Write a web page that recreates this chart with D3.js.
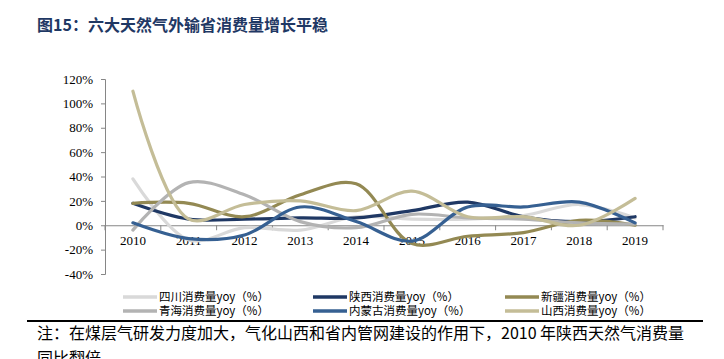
<!DOCTYPE html>
<html>
<head>
<meta charset="utf-8">
<script src="https://d3js.org/d3.v7.min.js"></script>
<style>
  body { margin: 0; background: #fff; }
  svg { display: block; }
</style>
</head>
<body>
<svg width="724" height="359"></svg>
<script>
// 数据：各省天然气消费量同比增速（%）
const years = ["2010","2011","2012","2013","2014","2015","2016","2017","2018","2019"];
const sichuan   = [38, -12, -2, -4, 7, 5, 5, 8, 17, 6];
const shaanxi   = [18, 5, 5, 6, 6, 12, 19, 7, 3, 7];
const xinjiang  = [18, 18, 7, 25, 34, -15, -9, -6, 4, 0];
const qinghai   = [-4, 35, 25, 3, -2, 9, 6, 5, 2, 1];
const neimenggu = [2, -11, -8, 15, 3, -13, 15, 15, 19, 2];
const shanxi    = [110, 5, 17, 20, 12, 28, 7, 7, 0, 22];
const yTicks = [-40, -20, 0, 20, 40, 60, 80, 100, 120];

const series = [
  { name: "四川消费量yoy（%）",   values: sichuan,   color: "#d9d9d9" },
  { name: "陕西消费量yoy（%）",   values: shaanxi,   color: "#1f3864" },
  { name: "新疆消费量yoy（%）",   values: xinjiang,  color: "#938953" },
  { name: "青海消费量yoy（%）",   values: qinghai,   color: "#b3b3b3" },
  { name: "内蒙古消费量yoy（%）", values: neimenggu, color: "#366092" },
  { name: "山西消费量yoy（%）",   values: shanxi,    color: "#c4bd97" }
];

const svg = d3.select("svg");
const serif = "'Liberation Serif', 'Times New Roman', serif";
const cjk = "'Noto Sans CJK SC', sans-serif";

// 标题
svg.append("text")
  .attr("x", 37).attr("y", 31)
  .attr("font-family", cjk).attr("font-size", 16).attr("font-weight", "bold")
  .attr("fill", "#1f3864")
  .text("图15：六大天然气外输省消费量增长平稳");

const x = d3.scaleBand().domain(years).range([105, 663]).padding(0);
const y = d3.scaleLinear().domain([-40, 120]).range([274, 79]);
const axisColor = "#868686";

// y 轴
const yAxis = svg.append("g").attr("transform", "translate(105,0)")
  .call(d3.axisLeft(y).tickValues(yTicks).tickSize(4).tickPadding(8).tickFormat(d => d + "%"));
yAxis.select(".domain").attr("stroke", axisColor);
yAxis.selectAll(".tick line").attr("stroke", axisColor);
yAxis.selectAll("text").attr("font-family", serif).attr("font-size", 13).attr("fill", "#000");

// x 轴（0% 处）
const xAxis = svg.append("g").attr("transform", `translate(0,${y(0)})`)
  .call(d3.axisBottom(x).tickSize(0).tickPadding(11));
xAxis.select(".domain").attr("stroke", axisColor);
xAxis.selectAll("text").attr("font-family", serif).attr("font-size", 13).attr("fill", "#000");
xAxis.selectAll(".sep")
  .data(years.map(d => x(d)).concat([x.range()[1]]))
  .enter().append("line")
  .attr("x1", d => d).attr("x2", d => d)
  .attr("y1", 0).attr("y2", 5)
  .attr("stroke", axisColor);

// 折线
const line = d3.line()
  .x((d, i) => x(years[i]) + x.bandwidth() / 2)
  .y(d => y(d))
  .curve(d3.curveCatmullRom.alpha(0.5));

svg.append("g").selectAll("path")
  .data(series)
  .enter().append("path")
  .attr("d", d => line(d.values))
  .attr("fill", "none")
  .attr("stroke", d => d.color)
  .attr("stroke-width", 3.2)
  .attr("stroke-linecap", "round");

// 图例
const colX = [123, 313, 505];
const rowY = [297, 311];
const legend = svg.append("g").selectAll("g")
  .data(series)
  .enter().append("g")
  .attr("transform", (d, i) => `translate(${colX[i % 3]},${rowY[Math.floor(i / 3)]})`);
legend.append("line")
  .attr("x1", 0).attr("x2", 34).attr("y1", 0).attr("y2", 0)
  .attr("stroke", d => d.color).attr("stroke-width", 3.5);
legend.append("text")
  .attr("x", 36).attr("y", 4)
  .attr("font-family", cjk).attr("font-size", 11.5).attr("fill", "#000")
  .text(d => d.name);

// 分隔线与注释
svg.append("line")
  .attr("x1", 27).attr("x2", 703).attr("y1", 321).attr("y2", 321)
  .attr("stroke", "#000").attr("stroke-width", 2);
svg.append("text")
  .attr("x", 37).attr("y", 339)
  .attr("font-family", cjk).attr("font-size", 16).attr("fill", "#000")
  .text("注：在煤层气研发力度加大，气化山西和省内管网建设的作用下，2010 年陕西天然气消费量");
svg.append("text")
  .attr("x", 37).attr("y", 364)
  .attr("font-family", cjk).attr("font-size", 16).attr("fill", "#000")
  .text("同比翻倍");
</script>
</body>
</html>
